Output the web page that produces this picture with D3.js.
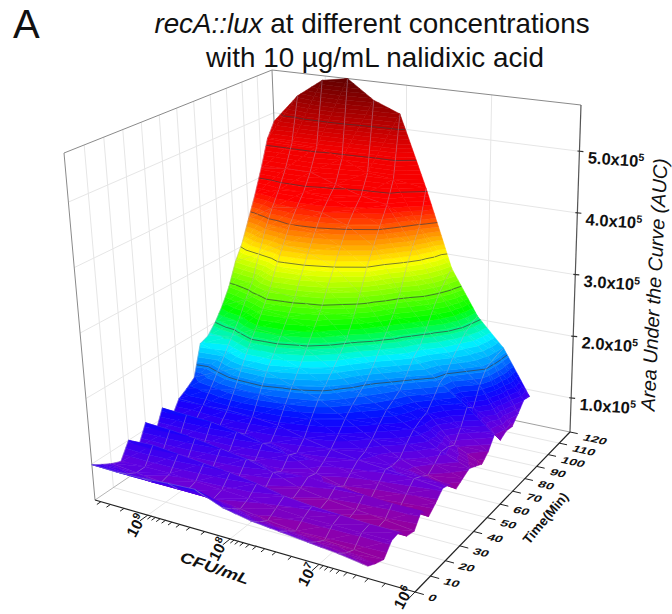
<!DOCTYPE html>
<html>
<head>
<meta charset="utf-8">
<script src="https://cdn.jsdelivr.net/npm/d3@7"></script>
<style>
  html, body { margin: 0; padding: 0; background: white; }
  text { font-family: "Liberation Sans", Arial, sans-serif; fill: #111; }
</style>
</head>
<body>
<div id="chart"></div>
<script>
// time points of the surface (min)
let times = [0,5,10,15,20,25,30,35,40,45,50,55,60,65,70,75,80,85,90,95,100,105,110,115,120];
// log10(CFU/mL) of each surface column
let cfuLogs = [9.68,9.36,9.04,8.72,8.40,8.08,7.76,7.44,7.12,6.80,6.48];
let timeTicks = [0,10,20,30,40,50,60,70,80,90,100,110,120];
let cfuDecades = [6,7,8,9];
let aucTicks = [1,2,3,4,5];
let contourLevels = [1.5,2,2.5,3,3.5,4,4.5,5];

// AUC in units of 1e5, one array per CFU column, read along time
let auc0 = [.99,.90,.82,.76,1.0,.80,1.1,.84,1.16,.92,1.14,1.22,1.32,1.8,1.85,2.0,2.2,2.45,2.8,3.05,3.4,3.75,4.15,4.6,4.85];
let auc1 = [.98,.86,.78,.78,1.02,.82,1.08,.86,1.14,.96,1.12,1.30,1.5,1.7,1.92,2.12,2.38,2.62,3.0,3.36,3.65,3.9,4.2,4.58,5.35];
let auc2 = [.99,.84,.74,.78,.98,.80,1.04,.86,1.12,.98,1.14,1.38,1.65,1.9,2.13,2.37,2.62,2.94,3.22,3.5,3.72,3.92,4.2,4.57,5.67];
let auc3 = [1.02,.84,.72,.76,.94,.78,.98,.84,1.06,.94,1.12,1.40,1.67,1.88,2.1,2.32,2.56,2.88,3.17,3.45,3.7,3.88,4.05,4.43,5.75];
let auc4 = [1.04,.84,.70,.74,.90,.74,.92,.80,.98,.90,1.08,1.32,1.54,1.75,1.96,2.2,2.42,2.72,3.0,3.28,3.55,3.75,3.92,4.25,5.43];
let auc5 = [.88,.76,.66,.72,.84,.68,.82,.74,.90,.84,.98,1.20,1.42,1.56,1.72,1.88,2.05,2.33,2.64,3.0,3.28,3.56,3.83,4.2,5.25];
let auc6 = [.80,.68,.60,.68,.76,.62,.68,.76,.72,.80,.90,1.04,1.2,1.33,1.43,1.53,1.7,1.9,2.1,2.3,2.57,2.93,3.22,3.47,4.05];
let auc7 = [.76,.66,.56,.66,.72,.58,.62,.72,.62,.74,.84,.88,.98,1.12,1.25,1.32,1.4,1.56,1.75,1.86,2.06,2.3,2.5,2.65,2.77];
let auc8 = [.72,.62,.54,.66,.70,.54,.58,.70,.56,.68,.80,.76,.78,.92,1.04,1.1,1.14,1.28,1.44,1.5,1.68,1.8,1.93,2.0,2.05];
let auc9 = [.68,.58,.52,.66,.68,.52,.54,.68,.52,.64,.76,.70,.62,.70,.80,.78,.72,.90,1.14,1.04,1.32,1.5,1.55,1.58,1.6];
let auc10 = [.62,.55,.50,.66,.68,.52,.49,.68,.50,.60,.72,.68,.52,.58,.64,.58,.52,.62,.80,.62,.68,.66,.78,.92,.89];
let surface = [auc0,auc1,auc2,auc3,auc4,auc5,auc6,auc7,auc8,auc9,auc10];

let width = 672, height = 614;
let svg = d3.select("#chart").append("svg")
    .attr("width", width)
    .attr("height", height)
    .style("display", "block");

let xScale = d3.scaleLog().domain([Math.pow(10, 9.68), 1e6]).range([0, 1]);
let tScale = d3.scaleLinear().domain([0, 120]).range([0, 1]);
let zScale = d3.scaleLinear().domain([0.45, 5.75]).range([0, 1]);
let color = d3.scaleLinear()
    .domain([.5,.6,.75,.95,1.1,1.25,1.45,1.8,2.2,3.0,3.5,3.8,4.6,5.75])
    .range(["#94009c","#8a00b0","#6800dc","#3c00f0","#1800fc","#0018ff","#0070ff","#00f4ff","#00ff00","#ffff00","#ff6000","#ff0000","#f00000","#600000"])
    .clamp(true);

// square to quad, so the box keeps its perspective
let quadMap = function(p0, p1, p2, p3) {
    let dx1 = p1[0]-p2[0], dx2 = p3[0]-p2[0], dx3 = p0[0]-p1[0]+p2[0]-p3[0];
    let dy1 = p1[1]-p2[1], dy2 = p3[1]-p2[1], dy3 = p0[1]-p1[1]+p2[1]-p3[1];
    let den = dx1*dy2-dx2*dy1;
    let g = (dx3*dy2-dx2*dy3)/den, h = (dx1*dy3-dx3*dy1)/den;
    let a = p1[0]-p0[0]+g*p1[0], b = p3[0]-p0[0]+h*p3[0];
    let d = p1[1]-p0[1]+g*p1[1], e = p3[1]-p0[1]+h*p3[1];
    return function(u, v) {
        let w = g*u+h*v+1;
        return [(a*u+b*v+p0[0])/w, (d*u+e*v+p0[1])/w];
    };
}
let floorMap = quadMap([95,500],[415,592],[570,432],[284,372]);
let ceilMap = quadMap([64,153],[413,204],[581,105],[272,70]);
let proj = function(u, v, w) {
    let f = floorMap(u, v), c = ceilMap(u, v);
    return [f[0]+(c[0]-f[0])*w, f[1]+(c[1]-f[1])*w];
}
let lineGen = d3.line();
let drawLine = function(parent, a, b, stroke, sw) {
    parent.append("path")
        .attr("d", lineGen([proj(a[0],a[1],a[2]), proj(b[0],b[1],b[2])]))
        .attr("fill", "none")
        .attr("stroke", stroke)
        .attr("stroke-width", sw);
}

// walls and floor
let grid = svg.append("g");
let gridColor = "#e6e6e6";
timeTicks.slice(1, -1).forEach(function(t) {
    let v = tScale(t);
    drawLine(grid, [0,v,0], [0,v,1], gridColor, 1);
    drawLine(grid, [0,v,0], [1,v,0], gridColor, 1);
});
aucTicks.forEach(function(z) {
    let w = zScale(z);
    drawLine(grid, [0,0,w], [0,1,w], gridColor, 1);
    drawLine(grid, [0,1,w], [1,1,w], gridColor, 1);
});
cfuDecades.slice(1).forEach(function(c) {
    let u = xScale(Math.pow(10, c));
    drawLine(grid, [u,1,0], [u,1,1], gridColor, 1);
    drawLine(grid, [u,0,0], [u,1,0], gridColor, 1);
});
let edge = "#8a8a8a";
drawLine(grid, [0,0,0], [0,1,0], "#b5b5b5", 1);
drawLine(grid, [0,1,0], [1,1,0], "#a0a0a0", 1);
drawLine(grid, [0,0,0], [0,0,1], edge, 1);
drawLine(grid, [0,1,0], [0,1,1], edge, 1);
drawLine(grid, [0,0,1], [0,1,1], edge, 1);
drawLine(grid, [0,1,1], [1,1,1], edge, 1);

// clip a polygon of [u, v, z] points to z >= level (sign 1) or z <= level (sign -1)
let clipZ = function(poly, level, sign) {
    let out = [];
    poly.forEach(function(p, i) {
        let q = poly[(i+1) % poly.length];
        let dp = (p[2]-level)*sign, dq = (q[2]-level)*sign;
        if (dp >= 0) out.push(p);
        if (dp*dq < 0) {
            let k = dp/(dp-dq);
            out.push([p[0]+(q[0]-p[0])*k, p[1]+(q[1]-p[1])*k, level]);
        }
    });
    return out;
}
let projPoint = function(p) { return proj(p[0], p[1], zScale(p[2])); };
let bandStep = 0.07;

let drawTriangle = function(g, tri) {
    let zs = tri.map(function(p) { return p[2]; });
    let lo = Math.floor(d3.min(zs)/bandStep), hi = Math.ceil(d3.max(zs)/bandStep);
    for (let b = lo; b < hi; b++) {
        let poly = clipZ(clipZ(tri, b*bandStep, 1), (b+1)*bandStep, -1);
        if (poly.length < 3) continue;
        let c = color((b+.5)*bandStep);
        g.append("path")
            .attr("d", lineGen(poly.map(projPoint)) + "Z")
            .attr("fill", c)
            .attr("stroke", c)
            .attr("stroke-width", .5);
    }
}
let drawContours = function(g, tri) {
    contourLevels.forEach(function(level) {
        let pts = [];
        tri.forEach(function(p, i) {
            let q = tri[(i+1) % 3];
            if ((p[2] >= level) != (q[2] >= level)) {
                let k = (level-p[2])/(q[2]-p[2]);
                pts.push([p[0]+(q[0]-p[0])*k, p[1]+(q[1]-p[1])*k, level]);
            }
        });
        if (pts.length == 2) {
            g.append("path")
                .attr("d", lineGen(pts.map(projPoint)))
                .attr("fill", "none")
                .attr("stroke", "#3c3c3c")
                .attr("stroke-opacity", .75)
                .attr("stroke-width", .9);
        }
    });
}

// surface, painted from the back corner to the front
let surf = svg.append("g");
for (let i = times.length-2; i >= 0; i--) {
    for (let j = 0; j < cfuLogs.length-1; j++) {
        let vert = function(ii, jj) {
            return [xScale(Math.pow(10, cfuLogs[jj])), tScale(times[ii]), surface[jj][ii]];
        };
        let a = vert(i, j), b = vert(i, j+1), c = vert(i+1, j+1), d = vert(i+1, j);
        let g = surf.append("g");
        drawTriangle(g, [a, b, c]);
        drawTriangle(g, [a, c, d]);
        drawContours(g, [a, b, c]);
        drawContours(g, [a, c, d]);
        // mesh, every 10 min along time
        let mesh = [[a, d]];
        if (i % 2 == 0) mesh.push([a, b]);
        mesh.forEach(function(m) {
            g.append("path")
                .attr("d", lineGen(m.map(projPoint)))
                .attr("fill", "none")
                .attr("stroke", "#b0a4c0")
                .attr("stroke-opacity", .55)
                .attr("stroke-width", .7);
        });
    }
}

// axes
let axes = svg.append("g");
let axisColor = "#222";
drawLine(axes, [0,0,0], [1,0,0], axisColor, 1.2);
drawLine(axes, [1,0,0], [1,1,0], axisColor, 1.2);
drawLine(axes, [1,1,0], [1,1,1], "#555", 1.2);

xScale.ticks().forEach(function(c) {
    if (c > xScale.domain()[0]) return;
    let major = Math.abs(Math.log10(c) % 1) < 1e-6;
    drawLine(axes, [xScale(c),0,0], [xScale(c),major ? -0.035 : -0.018,0], axisColor, 1);
});
cfuDecades.forEach(function(c) {
    let p = proj(xScale(Math.pow(10, c)), 0, 0);
    let t = axes.append("text")
        .attr("transform", "translate(" + (p[0]-7) + "," + (p[1]+(c == 6 ? 8 : 13)) + ") rotate(-62)")
        .attr("text-anchor", "middle")
        .attr("font-size", 15.5)
        .attr("font-weight", "bold");
    t.append("tspan").text("10");
    t.append("tspan").attr("dy", -6).attr("font-size", 10.5).text(c);
});
timeTicks.forEach(function(t) {
    let v = tScale(t);
    drawLine(axes, [1,v,0], [1.024,v,0], axisColor, 1);
    let p = proj(1, v, 0);
    axes.append("text")
        .attr("transform", "translate(" + (p[0]+12) + "," + (p[1]+8) + ") rotate(12) skewX(-20) scale(1,.68)")
        .attr("font-size", 14)
        .attr("font-weight", "bold")
        .text(t);
});
aucTicks.forEach(function(z) {
    let p = proj(1, 1, zScale(z));
    axes.append("path")
        .attr("d", lineGen([[p[0]-2, p[1]-.3], [p[0]+4, p[1]+.3]]))
        .attr("stroke", "#333")
        .attr("stroke-width", 1.2);
    let t = axes.append("text")
        .attr("transform", "translate(" + (p[0]+8) + "," + (p[1]+12) + ") rotate(4)")
        .attr("font-size", 16.5)
        .attr("font-weight", "bold");
    t.append("tspan").text(z.toFixed(1) + "x10");
    t.append("tspan").attr("dy", -6).attr("font-size", 10.5).text("5");
});

// titles
axes.append("text")
    .attr("transform", "translate(213,573) rotate(19) scale(1.25,1)")
    .attr("text-anchor", "middle")
    .attr("font-size", 15)
    .attr("font-weight", "bold")
    .attr("font-style", "italic")
    .text("CFU/mL");
axes.append("text")
    .attr("transform", "translate(549,521) rotate(-50) scale(.95,.95)")
    .attr("text-anchor", "middle")
    .attr("font-size", 14)
    .attr("font-weight", "bold")
    .text("Time(Min)");
axes.append("text")
    .attr("transform", "translate(661,285) rotate(-87)")
    .attr("text-anchor", "middle")
    .attr("font-size", 19.8)
    .attr("font-style", "italic")
    .text("Area Under the Curve (AUC)");

svg.append("text")
    .attr("x", 13).attr("y", 38)
    .attr("font-size", 40)
    .text("A");
let title = svg.append("text")
    .attr("x", 372).attr("y", 33)
    .attr("text-anchor", "middle")
    .attr("font-size", 27.8);
title.append("tspan").attr("font-style", "italic").text("recA::lux");
title.append("tspan").text(" at different concentrations");
svg.append("text")
    .attr("x", 375).attr("y", 67)
    .attr("text-anchor", "middle")
    .attr("font-size", 27.8)
    .text("with 10 µg/mL nalidixic acid");
</script>
</body>
</html>
